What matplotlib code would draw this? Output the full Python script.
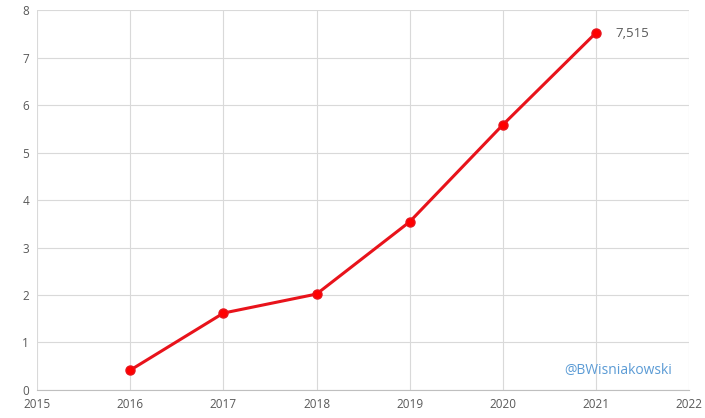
import matplotlib
matplotlib.use("Agg")
import matplotlib.pyplot as plt

years = [2016, 2017, 2018, 2019, 2020, 2021]
values = [0.42, 1.62, 2.02, 3.54, 5.58, 7.515]
last_label = "7,515"
credit = "@BWisniakowski"

plt.rcParams['font.family'] = ['Open Sans', 'DejaVu Sans']

fig = plt.figure(figsize=(7.05, 4.18), dpi=100)
ax = fig.add_axes([0.053, 0.067, 0.924, 0.909])

ax.plot(years, values, color='#e8131b', lw=2.2, marker='o', ms=6.5,
        markerfacecolor='#ff0000', markeredgecolor='#e8131b')
ax.annotate(last_label, (years[-1], values[-1]), xytext=(14, 0),
            textcoords='offset points', va='center', ha='left',
            fontsize=9.5, color='#595959')
ax.text(0.975, 0.05, credit, transform=ax.transAxes, ha='right', va='center',
        fontsize=10, color='#5b9bd5')

ax.set_xlim(2015, 2022)
ax.set_ylim(0, 8)
ax.set_xticks(range(2015, 2023))
ax.set_yticks(range(0, 9))
ax.grid(True, color='#d9d9d9', lw=0.8)
ax.set_axisbelow(True)
for s in ['left', 'top', 'right']:
    ax.spines[s].set_visible(False)
ax.spines['bottom'].set_color('#bfbfbf')
ax.tick_params(length=0, labelsize=8.5, colors='#595959', pad=6)

fig.savefig('out.png', dpi=100)
